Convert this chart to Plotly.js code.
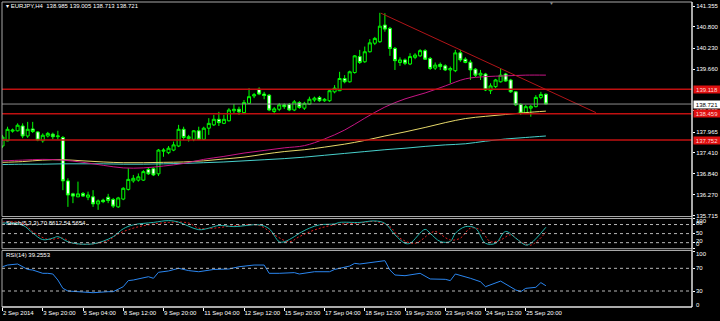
<!DOCTYPE html>
<html><head><meta charset="utf-8">
<script src="https://cdn.plot.ly/plotly-3.0.1.min.js"></script>
<style>html,body{margin:0;padding:0;background:#000;}#chart{width:720px;height:321px;}</style>
</head><body><div id="chart"></div>
<script>
const FONT = "'Liberation Sans',Arial,sans-serif";

// ---- candles (EURJPY H4, bar index 0 = 2 Sep 2014 12:00) ----
const barIndex = Array.from({length: 109}, (_, i) => i);
const open = [
137.59,137.73,137.99,138.00,138.13,137.86,138.05,137.97,137.73,137.86,
137.91,137.84,137.82,136.65,136.30,136.22,136.31,136.21,136.22,136.03,
136.13,136.21,136.15,135.95,136.16,136.42,136.65,136.67,136.67,136.96,
136.98,136.84,137.45,137.41,137.48,137.59,138.04,137.79,137.77,138.00,
137.77,138.07,138.16,138.31,138.20,138.27,138.54,138.58,138.49,138.74,
138.94,139.12,138.99,138.96,138.52,138.58,138.70,138.71,138.56,138.76,
138.61,138.72,138.83,138.90,138.81,138.81,139.05,139.08,139.41,139.32,
139.57,140.00,139.86,140.13,140.36,140.40,140.85,140.76,140.22,139.84,
139.91,139.80,139.98,140.02,140.16,139.95,139.69,139.79,139.75,139.64,
139.62,140.10,139.93,139.85,139.66,139.50,139.53,139.08,139.19,139.32,
139.53,139.37,139.05,138.71,138.49,138.61,138.65,138.90,138.985];
const high = [
137.89,138.11,138.06,138.20,138.20,138.24,138.24,137.99,137.93,137.97,
137.95,138.00,137.86,136.72,136.33,136.63,136.35,136.36,136.40,136.15,
136.17,136.30,136.19,136.22,136.48,136.99,136.81,136.85,136.94,137.02,
137.02,137.51,137.53,137.59,137.71,138.16,138.11,137.89,138.02,138.11,
138.11,138.34,138.43,138.51,138.43,138.61,138.72,138.65,138.83,139.15,
139.02,139.17,139.05,138.99,138.64,138.75,138.74,138.75,138.83,138.80,
138.78,138.92,138.92,138.94,138.88,139.10,139.23,139.59,139.50,139.62,
140.04,140.18,140.27,140.47,140.53,141.18,141.17,140.80,140.26,139.98,
139.95,140.09,140.09,140.20,140.20,139.99,139.84,139.84,139.79,139.73,
140.18,140.18,139.98,139.91,139.69,139.64,139.56,139.28,139.40,139.69,
139.56,139.40,139.07,138.74,138.70,138.70,138.96,139.05,139.005];
const low = [
137.54,137.72,137.95,137.98,137.80,137.81,137.94,137.72,137.68,137.82,
137.77,137.77,136.40,135.95,136.05,136.21,136.22,136.13,135.95,135.87,
136.05,136.05,135.92,135.92,136.13,136.39,136.60,136.63,136.65,136.81,
136.78,136.78,137.30,137.37,137.45,137.56,137.75,137.71,137.72,137.75,
137.75,137.89,138.13,138.13,138.18,138.25,138.47,138.43,138.45,138.72,
138.88,138.96,138.85,138.53,138.45,138.53,138.59,138.53,138.53,138.59,
138.56,138.70,138.78,138.78,138.78,138.78,139.01,139.07,139.28,139.30,
139.54,139.80,139.83,140.11,140.31,140.37,140.67,140.02,139.64,139.75,
139.77,139.77,139.93,139.99,139.91,139.64,139.64,139.64,139.61,139.28,
139.58,139.86,139.82,139.37,139.45,139.37,139.07,138.99,139.15,139.30,
139.32,139.02,138.67,138.43,138.45,138.38,138.63,138.85,138.713];
const close = [
137.83,138.04,138.02,138.15,137.86,138.04,137.98,137.75,137.88,137.93,
137.84,137.86,136.65,136.27,136.24,136.30,136.24,136.27,136.03,136.11,
136.09,136.12,135.97,136.19,136.45,136.69,136.72,136.76,136.90,136.84,
136.81,137.48,137.48,137.53,137.62,138.04,137.82,137.84,138.00,137.77,
138.07,138.20,138.31,138.22,138.31,138.56,138.58,138.51,138.76,138.92,
138.97,138.99,138.95,138.56,138.59,138.70,138.65,138.56,138.78,138.63,
138.74,138.85,138.88,138.81,138.85,139.08,139.15,139.41,139.32,139.59,
140.02,139.84,140.13,140.37,140.49,140.82,140.74,140.22,139.89,139.91,
139.82,140.00,140.04,140.16,139.93,139.68,139.77,139.73,139.64,139.68,
140.10,139.91,139.84,139.64,139.50,139.55,139.10,139.21,139.37,139.50,
139.34,139.05,138.70,138.47,138.65,138.66,138.90,138.98,138.721];

// ---- moving averages (read every 4 bars) ----
const maBars = [0,4,8,12,16,20,24,28,32,36,40,44,48,52,56,60,64,68,72,76,80,84,88,92,96,100,104,108];
const maMagenta = [137.19,137.21,137.23,137.21,137.15,137.07,137.00,137.00,137.05,137.12,137.23,137.31,137.40,137.47,137.54,137.60,137.78,138.02,138.34,138.64,138.86,139.02,139.21,139.40,139.46,139.48,139.50,139.50];
const maYellow = [137.15,137.17,137.21,137.22,137.19,137.16,137.14,137.14,137.15,137.16,137.19,137.24,137.29,137.37,137.44,137.49,137.56,137.64,137.74,137.86,137.97,138.09,138.22,138.33,138.39,138.44,138.49,138.53];
const maCyan = [137.09,137.10,137.10,137.11,137.11,137.11,137.10,137.10,137.11,137.12,137.14,137.16,137.19,137.22,137.25,137.29,137.34,137.39,137.44,137.49,137.53,137.58,137.62,137.65,137.72,137.78,137.82,137.86];

// ---- levels & trendline ----
const redLevels = [139.118, 138.459, 137.752];
const bidLevel = 138.721;
const trendBars = [75.2, 117.95];
const trendPrices = [141.17, 138.49];
const priceTicks = [141.355, 140.800, 140.230, 139.660, 138.535, 137.965, 137.410, 136.840, 136.270, 135.715];

// ---- stochastic (5,3,3) ----
const stochMainBars = [0,4,6,8,10,11,13,15,18,20,22,24,26,30,33,35,39,41,43,46,51,53,55,56,58,59,61,63,66,67,71,74,76,78,80,81,84,85,87,89,90,92,94,96,98,100,102,104,105,108];
const stochMain = [85,78,52,30,35,40,23,16,16,25,40,66,79,87,93,88,63,68,77,73,79,66,23,23,40,51,68,79,82,87,87,92,84,46,18,18,64,51,24,24,51,73,68,18,18,57,35,12,18,70.86];
const stochSigBars = [0,4,6,9,12,14,18,21,23,26,29,33,37,39,42,46,51,54,57,59,62,66,71,74,77,79,82,85,86,89,91,93,95,97,99,101,103,105,108];
const stochSig = [88,85,57,31,35,18,16,27,49,68,79,87,85,68,68,76,77,46,23,40,62,79,85,90,73,35,18,51,57,29,35,68,62,23,29,46,23,12,54.57];
const stochLevels = [80, 50, 20];

// ---- RSI(14) ----
const rsiBars = [0,1,3,4,5,6,8,9,10,11,12,13,16,18,21,22,24,25,26,28,29,30,31,33,35,37,39,42,45,47,50,52,53,55,58,59,62,65,66,69,70,71,73,75,76,77,78,80,81,83,85,88,89,90,93,95,96,99,102,103,104,106,107,108];
const rsiValues = [72.8,75.8,77.6,72.8,68,67,61.2,61.2,60,49.4,34.7,30,28.8,27,28.8,28.8,37.6,48.3,49.4,52.4,55.2,52.4,63,65.3,70,66,64,68,68.8,72.8,75.8,75.8,61.2,61.2,62.4,60,64,64,68,74,78.8,77.6,80,81.8,83.5,67,58.2,57,58.2,61.2,51.2,50.6,48.3,60,52.4,46.4,37.6,47.5,31.8,28.8,34.7,36.5,44.8,39.26];
const rsiLevels = [70, 30];

// ---- time axis ----
const timeTickBars = [0,8,16,24,32,40,48,56,64,72,80,88,96,104];
const timeTickText = ['2 Sep 2014','3 Sep 20:00','5 Sep 04:00','8 Sep 12:00','9 Sep 20:00','11 Sep 04:00','12 Sep 12:00','15 Sep 20:00','17 Sep 04:00','18 Sep 12:00','19 Sep 20:00','23 Sep 04:00','24 Sep 12:00','25 Sep 20:00'];

// ---- layout geometry ----
const XR = [-0.1, 137.04];
const mainDom = [0.2967, 1];
const stochDom = [0.1911, 0.2902];
const rsiDom = [0, 0.1852];

const traces = [
  {type:'scatter', mode:'lines', x:maBars, y:maCyan, xaxis:'x', yaxis:'y', line:{color:'#48d1cc', width:1, shape:'spline'}, hoverinfo:'skip'},
  {type:'scatter', mode:'lines', x:maBars, y:maYellow, xaxis:'x', yaxis:'y', line:{color:'#e6d86a', width:1, shape:'spline'}, hoverinfo:'skip'},
  {type:'scatter', mode:'lines', x:maBars, y:maMagenta, xaxis:'x', yaxis:'y', line:{color:'#c71585', width:1, shape:'spline'}, hoverinfo:'skip'},
  {type:'candlestick', x:barIndex, open:open, high:high, low:low, close:close, xaxis:'x', yaxis:'y',
   increasing:{line:{color:'#00ff00', width:1}, fillcolor:'#000000'},
   decreasing:{line:{color:'#00ff00', width:1}, fillcolor:'#ffffff'}, hoverinfo:'skip'},
  {type:'scatter', mode:'lines', x:trendBars, y:trendPrices, xaxis:'x', yaxis:'y', line:{color:'#b01418', width:1}, hoverinfo:'skip'},
  {type:'scatter', mode:'lines', x:stochSigBars, y:stochSig, xaxis:'x2', yaxis:'y2', line:{color:'#e02020', width:1, dash:'2px,2px', shape:'spline'}, hoverinfo:'skip'},
  {type:'scatter', mode:'lines', x:stochMainBars, y:stochMain, xaxis:'x2', yaxis:'y2', line:{color:'#20b2aa', width:1, shape:'spline'}, hoverinfo:'skip'},
  {type:'scatter', mode:'lines', x:rsiBars, y:rsiValues, xaxis:'x3', yaxis:'y3', line:{color:'#2a86f0', width:1}, hoverinfo:'skip'}
];

const shapes = [];
redLevels.forEach(v => shapes.push({type:'line', xref:'paper', x0:0, x1:1, yref:'y', y0:v, y1:v, line:{color:'#c01010', width:1.5}}));
shapes.push({type:'line', xref:'paper', x0:0, x1:1, yref:'y', y0:bidLevel, y1:bidLevel, line:{color:'#8c8c8c', width:1}});
stochLevels.forEach(v => shapes.push({type:'line', xref:'paper', x0:0, x1:1, yref:'y2', y0:v, y1:v, line:{color:'#b8b8b8', width:1, dash:'3px,3px'}}));
rsiLevels.forEach(v => shapes.push({type:'line', xref:'paper', x0:0, x1:1, yref:'y3', y0:v, y1:v, line:{color:'#b8b8b8', width:1, dash:'3px,3px'}}));
[mainDom, stochDom, rsiDom].forEach(d => shapes.push({type:'rect', xref:'paper', yref:'paper', x0:0, x1:1, y0:d[0], y1:d[1], line:{color:'#a8a8a8', width:1}}));
shapes.push({type:'line', xref:'paper', yref:'paper', x0:1, x1:1, y0:0, y1:1, line:{color:'#ffffff', width:1}});
shapes.push({type:'line', xref:'paper', yref:'paper', x0:0, x1:1, y0:0, y1:0, line:{color:'#ffffff', width:1}});

const tf = {family:FONT, size:6, color:'#ffffff'};
const ann = [];
ann.push({xref:'paper', yref:'paper', x:0.003, y:0.9869, xanchor:'left', yanchor:'middle', showarrow:false,
  text:'\u25BE EURJPY,H4\u00a0\u00a0138.985 139.005 138.713 138.721', font:tf});
ann.push({xref:'paper', yref:'paper', x:0.003, y:0.2738, xanchor:'left', yanchor:'middle', showarrow:false,
  text:'Stoch(5,3,3) 70.8612 54.5654', font:tf});
ann.push({xref:'paper', yref:'paper', x:0.003, y:0.1689, xanchor:'left', yanchor:'middle', showarrow:false,
  text:'RSI(14) 39.2553', font:tf});
ann.push({xref:'paper', yref:'paper', x:0.7967, y:0.9967, xanchor:'center', yanchor:'middle', showarrow:false,
  text:'\u25BC', font:{family:FONT, size:5, color:'#8a8a8a'}});
redLevels.forEach(v => ann.push({xref:'paper', yref:'y', x:1, y:v, xanchor:'left', yanchor:'middle', xshift:1, showarrow:false,
  text:v.toFixed(3), font:{family:FONT, size:6, color:'#ffd8d8'}, bgcolor:'#e01010', width:26, height:7, borderpad:0}));
ann.push({xref:'paper', yref:'y', x:1, y:bidLevel, xanchor:'left', yanchor:'middle', xshift:1, showarrow:false,
  text:bidLevel.toFixed(3), font:{family:FONT, size:6, color:'#000000'}, bgcolor:'#ffffff', width:26, height:7, borderpad:0});
const stochLab = [['100',0.2820],['80',0.2738],['50',0.2436],['20',0.2157],['0',0.2059]];
stochLab.forEach(s => ann.push({xref:'paper', yref:'paper', x:1, y:s[1], xanchor:'left', yanchor:'middle', xshift:2, showarrow:false, text:s[0], font:tf}));
const rsiLab = [['100',0.1748],['70',0.1289],['30',0.0531],['0',0.0072]];
rsiLab.forEach(s => ann.push({xref:'paper', yref:'paper', x:1, y:s[1], xanchor:'left', yanchor:'middle', xshift:2, showarrow:false, text:s[0], font:tf}));

const hiddenX = {range:XR, showgrid:false, zeroline:false, showticklabels:false, ticks:'', showline:false, fixedrange:true};
const layout = {
  width:720, height:321, margin:{l:2, r:28, t:2, b:14},
  paper_bgcolor:'#000000', plot_bgcolor:'#000000', showlegend:false,
  boxgap:0.25, boxgroupgap:0.2,
  font:{family:FONT, size:6, color:'#ffffff'},
  xaxis: Object.assign({}, hiddenX, {anchor:'y', rangeslider:{visible:false}}),
  xaxis2: Object.assign({}, hiddenX, {anchor:'y2', matches:'x'}),
  xaxis3: {range:XR, anchor:'y3', matches:'x', showgrid:false, zeroline:false, showline:false, fixedrange:true,
    tickvals:timeTickBars, ticktext:timeTickText, ticks:'outside', ticklen:3, tickcolor:'#ffffff', tickwidth:1,
    tickangle:0, ticklabelposition:'outside right', tickfont:tf, automargin:false},
  yaxis: {domain:mainDom, range:[135.69, 141.471], anchor:'x', side:'right', showgrid:false, zeroline:false, showline:false,
    tickvals:priceTicks, ticktext:priceTicks.map(v => v.toFixed(3)), ticks:'outside', ticklen:2, tickcolor:'#ffffff',
    tickfont:tf, fixedrange:true, automargin:false},
  yaxis2: {domain:stochDom, range:[0,100], anchor:'x2', side:'right', showgrid:false, zeroline:false, showticklabels:false,
    tickvals:[100,80,50,20,0], ticks:'outside', ticklen:2, tickcolor:'#ffffff', fixedrange:true},
  yaxis3: {domain:rsiDom, range:[1.8,101.4], anchor:'x3', side:'right', showgrid:false, zeroline:false, showticklabels:false,
    tickvals:[100,70,30], ticks:'outside', ticklen:2, tickcolor:'#ffffff', fixedrange:true},
  shapes:shapes, annotations:ann
};
Plotly.newPlot('chart', traces, layout, {displayModeBar:false, staticPlot:true});
</script></body></html>
